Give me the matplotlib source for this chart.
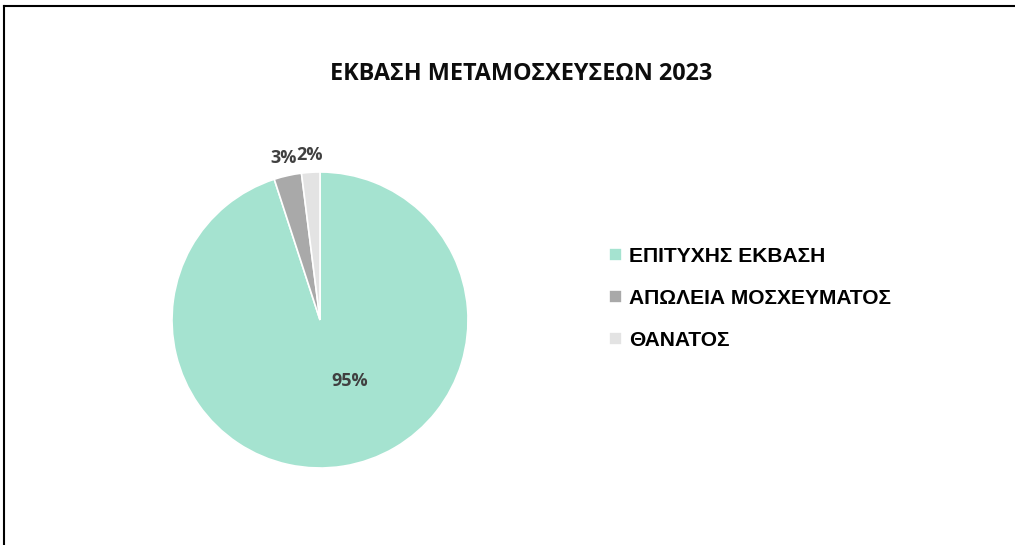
import matplotlib
matplotlib.use("Agg")
import matplotlib.pyplot as plt
from matplotlib.lines import Line2D

title = "ΕΚΒΑΣΗ ΜΕΤΑΜΟΣΧΕΥΣΕΩΝ 2023"
categories = ["ΕΠΙΤΥΧΗΣ ΕΚΒΑΣΗ", "ΑΠΩΛΕΙΑ ΜΟΣΧΕΥΜΑΤΟΣ", "ΘΑΝΑΤΟΣ"]
values = [95, 3, 2]
colors = ["#A5E3D0", "#A9A9A9", "#E3E3E3"]

W, H = 1015, 545
fig = plt.figure(figsize=(W / 100, H / 100), dpi=100)
fig.patch.set_facecolor("white")

# border (top and left visible)
fig.add_artist(Line2D([4 / W, 4 / W], [0, 1 - 6 / H], color="#000000", lw=1.5, transform=fig.transFigure))
fig.add_artist(Line2D([4 / W, 1], [1 - 6 / H, 1 - 6 / H], color="#000000", lw=1.5, transform=fig.transFigure))

cx, cy, r = 320, 320, 148
ax = fig.add_axes([(cx - r) / W, 1 - (cy + r) / H, 2 * r / W, 2 * r / H])
wedges, texts, autotexts = ax.pie(
    values, colors=colors, startangle=90, counterclock=False,
    autopct="%d%%", pctdistance=1.12,
    wedgeprops=dict(linewidth=1.2, edgecolor="white"),
    textprops=dict(fontsize=13, fontweight="bold", color="#404040", family="Open Sans"),
)
ax.set_xlim(-1, 1)
ax.set_ylim(-1, 1)
ax.set_aspect("equal")
# main label inside the big slice
autotexts[0].set_position((0.20, -0.41))

fig.text(521 / W, 1 - 74 / H, title, ha="center", va="center",
         fontsize=16.8, fontweight="bold", color="#0d0d0d", family="Open Sans")

leg = fig.legend(wedges, categories, loc="center left",
                 bbox_to_anchor=(590 / W, 1 - 298.5 / H), frameon=False,
                 prop=dict(family="Liberation Sans", weight="bold", size=15.1),
                 handlelength=0.62, handleheight=0.62, handletextpad=0.35,
                 labelspacing=1.1)

fig.savefig("out.png", dpi=100)
